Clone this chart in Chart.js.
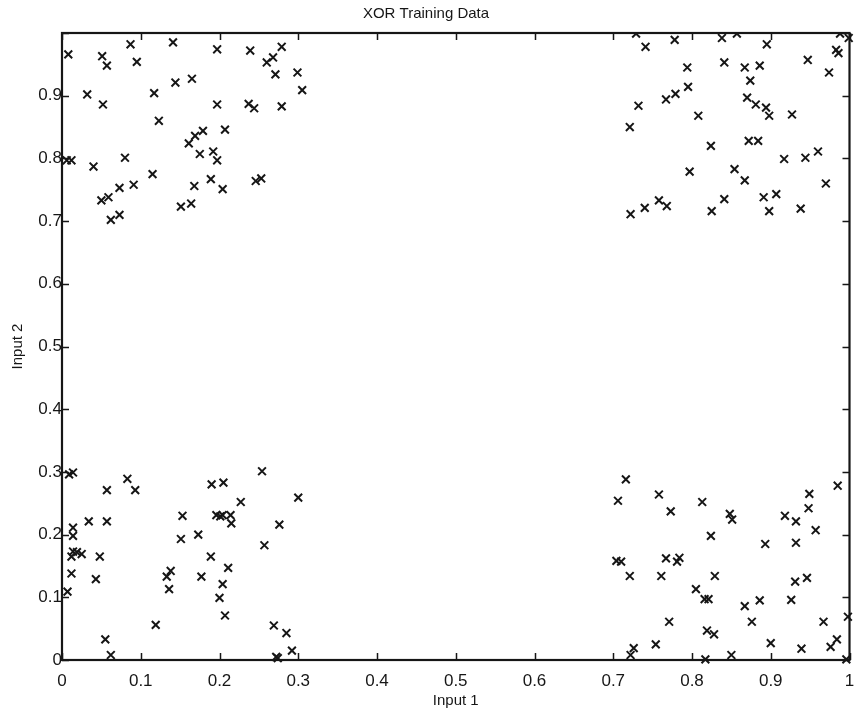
<!DOCTYPE html>
<html>
<head>
<meta charset="utf-8">
<script src="https://cdn.jsdelivr.net/npm/chart.js@4.4.1/dist/chart.umd.min.js"></script>
<style>
  html, body { margin: 0; padding: 0; background: #ffffff; }
  #wrap { width: 857px; height: 719px; }
</style>
</head>
<body>
<div id="wrap"><canvas id="c" width="857" height="719"></canvas></div>
<script>
// ---- Data ----
const chartTitle = 'XOR Training Data';
const xAxisTitle = 'Input 1';
const yAxisTitle = 'Input 2';
const xTickLabels = ['0','0.1','0.2','0.3','0.4','0.5','0.6','0.7','0.8','0.9','1'];
const yTickLabels = ['0','0.1','0.2','0.3','0.4','0.5','0.6','0.7','0.8','0.9',''];

// top-left cluster (low input 1, high input 2)
const topLeftX = [0.008,0.051,0.057,0.087,0.095,0.141,0.144,0.032,0.052,0.117,0.123,0.006,0.012,0.040,0.080,0.115,0.073,0.091,0.050,0.059,0.062,0.073,0.197,0.239,0.279,0.260,0.268,0.271,0.299,0.305,0.165,0.197,0.237,0.244,0.279,0.207,0.179,0.169,0.161,0.175,0.192,0.197,0.189,0.204,0.168,0.246,0.253,0.151,0.164];
const topLeftY = [0.966,0.963,0.948,0.982,0.954,0.985,0.921,0.902,0.886,0.904,0.860,0.797,0.797,0.787,0.801,0.775,0.753,0.758,0.733,0.738,0.702,0.710,0.974,0.972,0.978,0.953,0.961,0.934,0.937,0.909,0.927,0.886,0.887,0.880,0.883,0.846,0.844,0.836,0.824,0.807,0.811,0.797,0.767,0.751,0.756,0.764,0.768,0.723,0.728];

// top-right cluster (high input 1, high input 2)
const topRightX = [0.729,0.741,0.778,0.794,0.795,0.779,0.767,0.732,0.721,0.808,0.797,0.758,0.768,0.740,0.722,0.838,0.857,0.895,0.841,0.867,0.886,0.874,0.870,0.881,0.894,0.898,0.824,0.872,0.884,0.854,0.867,0.841,0.825,0.891,0.898,0.999,0.988,0.947,0.983,0.986,0.974,0.927,0.917,0.944,0.960,0.970,0.907,0.938];
const topRightY = [0.999,0.978,0.989,0.945,0.914,0.903,0.894,0.884,0.850,0.868,0.779,0.733,0.724,0.721,0.711,0.992,0.999,0.982,0.953,0.945,0.948,0.924,0.897,0.886,0.881,0.868,0.820,0.828,0.828,0.783,0.765,0.735,0.716,0.738,0.716,0.992,0.999,0.957,0.973,0.968,0.937,0.870,0.799,0.801,0.811,0.760,0.743,0.720];

// bottom-left cluster (low input 1, low input 2)
const bottomLeftX = [0.009,0.014,0.083,0.057,0.093,0.034,0.057,0.014,0.014,0.014,0.019,0.025,0.012,0.048,0.012,0.043,0.007,0.133,0.138,0.136,0.119,0.055,0.062,0.254,0.190,0.205,0.300,0.227,0.153,0.196,0.201,0.204,0.214,0.215,0.276,0.151,0.173,0.257,0.189,0.211,0.177,0.204,0.200,0.207,0.269,0.285,0.292,0.272,0.274];
const bottomLeftY = [0.296,0.299,0.289,0.271,0.271,0.221,0.221,0.211,0.198,0.173,0.172,0.169,0.165,0.165,0.138,0.129,0.109,0.133,0.142,0.113,0.056,0.033,0.008,0.301,0.280,0.283,0.259,0.252,0.230,0.231,0.229,0.231,0.231,0.218,0.216,0.193,0.200,0.183,0.165,0.147,0.133,0.121,0.099,0.071,0.055,0.043,0.015,0.005,0.003];

// bottom-right cluster (high input 1, low input 2)
const bottomRightX = [0.716,0.706,0.758,0.773,0.704,0.710,0.721,0.767,0.784,0.781,0.761,0.805,0.771,0.754,0.726,0.722,0.813,0.848,0.851,0.824,0.893,0.829,0.816,0.821,0.867,0.886,0.876,0.819,0.828,0.900,0.850,0.817,0.985,0.949,0.948,0.918,0.932,0.957,0.932,0.931,0.946,0.926,0.967,0.998,0.939,0.984,0.976,0.996];
const bottomRightY = [0.288,0.254,0.264,0.237,0.158,0.157,0.134,0.162,0.163,0.157,0.134,0.113,0.061,0.025,0.019,0.008,0.252,0.233,0.224,0.198,0.185,0.134,0.097,0.097,0.086,0.095,0.061,0.047,0.041,0.027,0.008,0.001,0.278,0.265,0.242,0.230,0.221,0.207,0.187,0.125,0.131,0.096,0.061,0.069,0.018,0.033,0.021,0.001];

// ---- Build points from the arrays ----
function pairs(xs, ys) { return xs.map((v, i) => ({ x: v, y: ys[i] })); }
const points = [].concat(
  pairs(topLeftX, topLeftY),
  pairs(topRightX, topRightY),
  pairs(bottomLeftX, bottomLeftY),
  pairs(bottomRightX, bottomRightY)
);

const FONT = "'Liberation Sans', Arial, Helvetica, sans-serif";
const INK = '#161616';

// Box and inward tick marks on all four sides, placed through the chart's scales
const framePlugin = {
  id: 'frame',
  beforeDatasetsDraw(chart) {
    const { ctx, chartArea: { left, right, top, bottom }, scales: { x, y } } = chart;
    const len = 7;
    ctx.save();
    ctx.strokeStyle = INK;
    ctx.lineWidth = 1.5;
    ctx.beginPath();
    x.ticks.forEach((t, i) => {
      const px = Math.round(x.getPixelForTick(i)) + 0.5;
      ctx.moveTo(px, bottom); ctx.lineTo(px, bottom - len);
      ctx.moveTo(px, top); ctx.lineTo(px, top + len);
    });
    y.ticks.forEach((t, i) => {
      const py = Math.round(y.getPixelForTick(i)) + 0.5;
      ctx.moveTo(left, py); ctx.lineTo(left + len, py);
      ctx.moveTo(right, py); ctx.lineTo(right - len, py);
    });
    ctx.stroke();
    ctx.lineWidth = 2.2;
    ctx.strokeRect(left, top, right - left, bottom - top);
    ctx.restore();
  }
};

new Chart(document.getElementById('c'), {
  type: 'scatter',
  data: {
    datasets: [{
      label: 'Training data',
      data: points,
      pointStyle: 'crossRot',
      pointRadius: 5.5,
      pointHoverRadius: 5.5,
      pointBorderWidth: 2,
      borderColor: INK,
      backgroundColor: INK,
      clip: { left: false, top: 0, right: false, bottom: false }
    }]
  },
  options: {
    responsive: false,
    animation: false,
    devicePixelRatio: 1,
    layout: { padding: { left: 0, right: 5, top: 0, bottom: 0 } },
    plugins: {
      legend: { display: false },
      tooltip: { enabled: false },
      title: {
        display: true,
        text: chartTitle,
        color: INK,
        font: { family: FONT, size: 15, weight: 'normal' },
        padding: { top: 5, bottom: 10 }
      }
    },
    scales: {
      x: {
        type: 'linear',
        min: 0, max: 1,
        grid: { display: false, drawTicks: false },
        border: { display: false },
        ticks: {
          stepSize: 0.1,
          autoSkip: false,
          maxRotation: 0,
          padding: 11,
          color: INK,
          font: { family: FONT, size: 17 },
          callback: (v, i) => xTickLabels[i]
        },
        title: {
          display: true,
          text: xAxisTitle,
          color: INK,
          font: { family: FONT, size: 15 },
          padding: { top: 0, bottom: 9 }
        },
        afterFit(scale) {
          scale.height = 59;
          scale.paddingLeft = 0;
          scale.paddingRight = 0;
        }
      },
      y: {
        type: 'linear',
        min: 0, max: 1,
        grid: { display: false, drawTicks: false },
        border: { display: false },
        ticks: {
          stepSize: 0.1,
          autoSkip: false,
          padding: 0,
          color: INK,
          font: { family: FONT, size: 17 },
          callback: (v, i) => yTickLabels[i]
        },
        title: {
          display: true,
          text: yAxisTitle,
          color: INK,
          font: { family: FONT, size: 15 },
          padding: { top: 9, bottom: 0 }
        },
        afterFit(scale) {
          scale.width = 62;
          scale.paddingTop = 0;
          scale.paddingBottom = 0;
        }
      }
    }
  },
  plugins: [framePlugin]
});
</script>
</body>
</html>
